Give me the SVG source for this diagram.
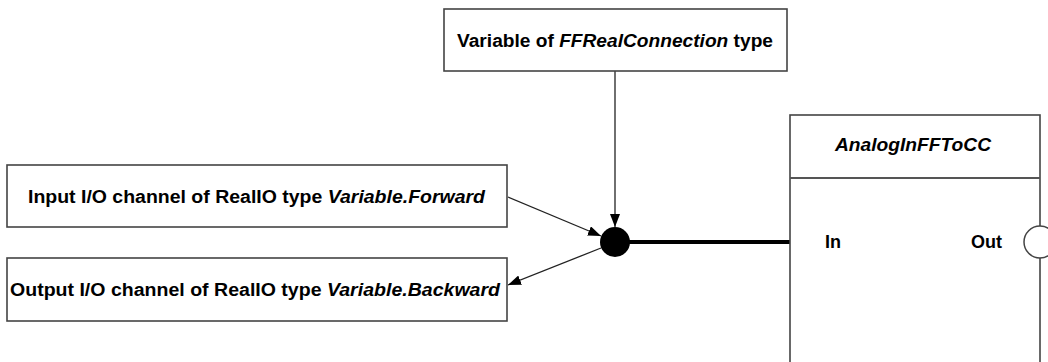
<svg xmlns="http://www.w3.org/2000/svg" width="1048" height="362" viewBox="0 0 1048 362">
<style>
.box{fill:#fff;stroke:#444;stroke-width:1.6}
.t{font-family:"Liberation Sans",Arial,sans-serif;font-size:18px;font-weight:bold;fill:#000}
.i{font-style:italic}
.ln{stroke:#222;stroke-width:1.3;fill:none}
</style>
<defs>
<marker id="ah" markerUnits="userSpaceOnUse" markerWidth="14" markerHeight="10" refX="13" refY="5" orient="auto">
<path d="M0,0 L13,5 L0,10 Z" fill="#000"/>
</marker>
</defs>
<rect width="1048" height="362" fill="#fff"/>
<g id="connectors">
<line class="ln" x1="615" y1="71" x2="615" y2="227" marker-end="url(#ah)"/>
<line class="ln" x1="508" y1="197" x2="601" y2="236" marker-end="url(#ah)"/>
<line class="ln" x1="601" y1="248" x2="508" y2="285" marker-end="url(#ah)"/>
<line x1="615" y1="242" x2="790" y2="242" stroke="#000" stroke-width="4"/>
</g>
<g id="variable">
<rect class="box" x="444" y="9" width="343" height="62"/>
<text class="t" x="457" y="47" textLength="316" lengthAdjust="spacingAndGlyphs">Variable of <tspan class="i">FFRealConnection</tspan> type</text>
</g>
<g id="input-channel">
<rect class="box" x="7" y="165" width="500" height="62"/>
<text class="t" x="28" y="203" textLength="457" lengthAdjust="spacingAndGlyphs">Input I/O channel of RealIO type <tspan class="i">Variable.Forward</tspan></text>
</g>
<g id="output-channel">
<rect class="box" x="7" y="258" width="500" height="63"/>
<text class="t" x="10" y="296" textLength="490" lengthAdjust="spacingAndGlyphs">Output I/O channel of RealIO type <tspan class="i">Variable.Backward</tspan></text>
</g>
<g id="junction">
<circle cx="615" cy="242" r="15" fill="#000"/>
</g>
<g id="analogin">
<rect class="box" x="790" y="115" width="250" height="270"/>
<line x1="790" y1="178" x2="1040" y2="178" stroke="#555" stroke-width="2"/>
<text class="t i" x="835" y="151" textLength="156" lengthAdjust="spacingAndGlyphs">AnalogInFFToCC</text>
<text class="t" x="825" y="248">In</text>
<text class="t" x="971" y="248">Out</text>
<circle cx="1040" cy="242" r="16" fill="#fff" stroke="#444" stroke-width="1.5"/>
</g>
</svg>
